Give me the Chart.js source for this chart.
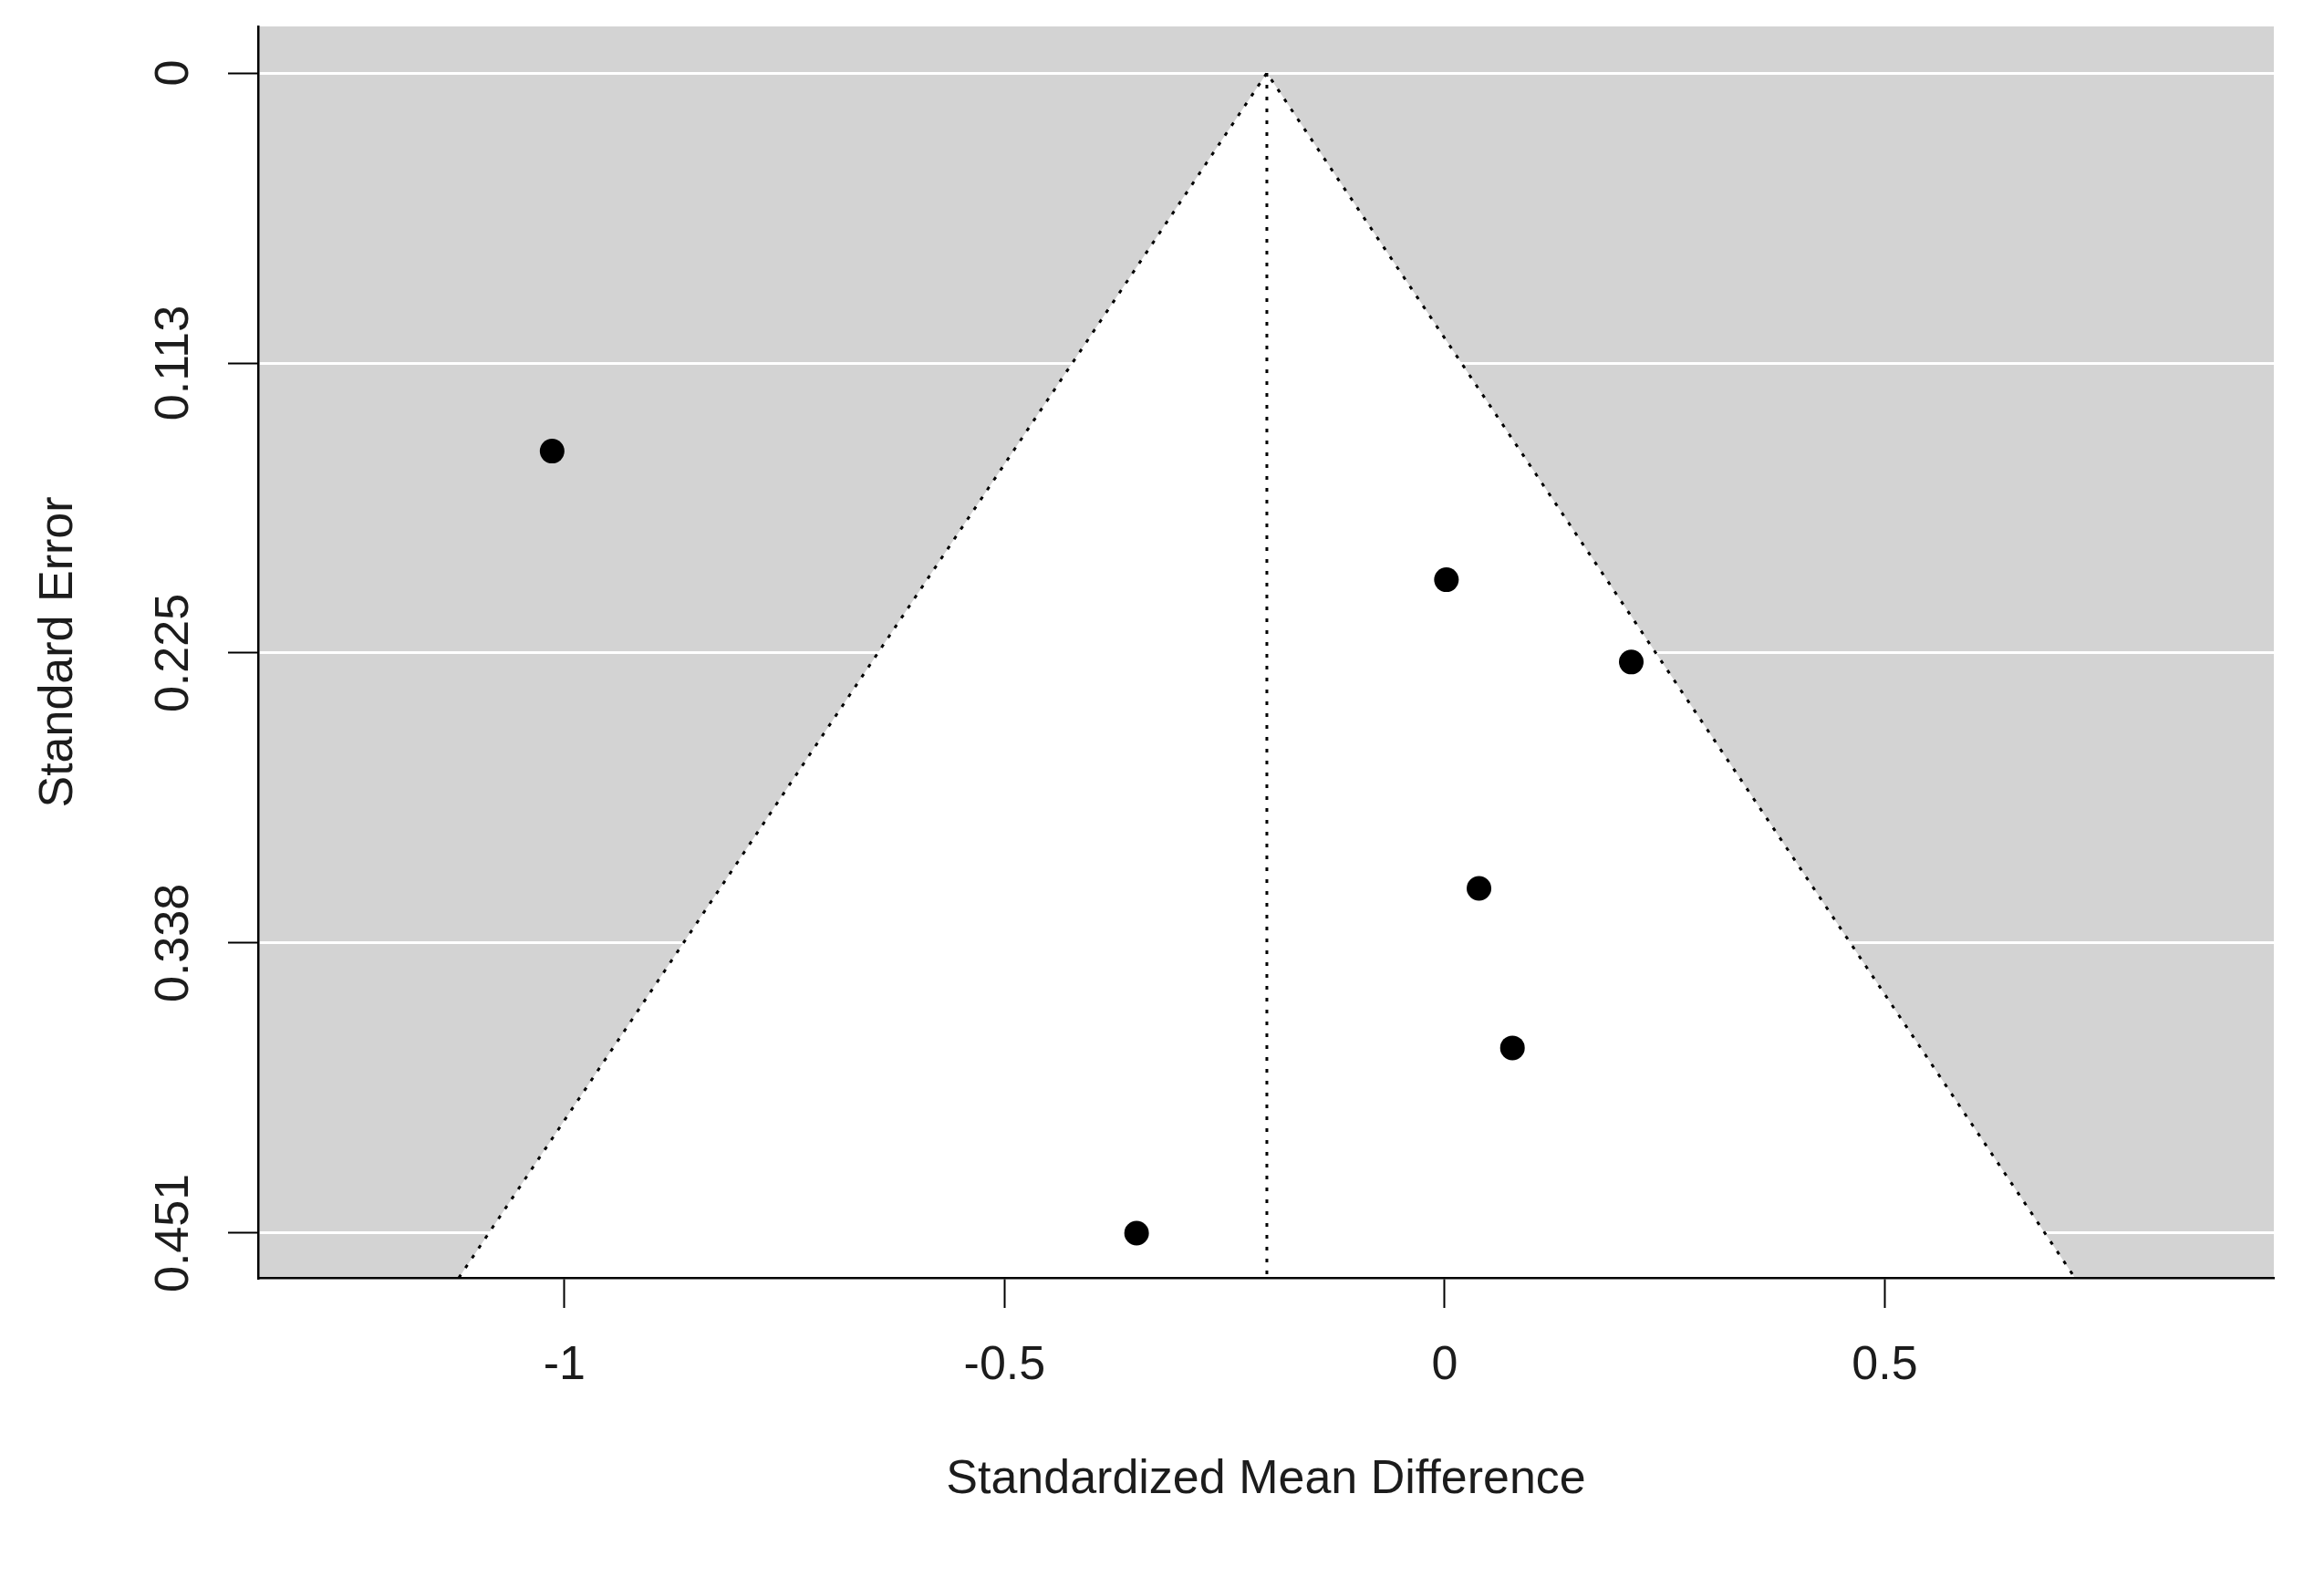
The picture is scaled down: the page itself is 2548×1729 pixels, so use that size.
<!DOCTYPE html>
<html>
<head>
<meta charset="utf-8">
<script src="https://cdn.jsdelivr.net/npm/chart.js@4.4.1/dist/chart.umd.min.js"></script>
<style>
  html, body { margin: 0; padding: 0; background: #ffffff; }
  canvas { display: block; }
</style>
</head>
<body>
<canvas id="c" width="2548" height="1729" style="width:2548px;height:1729px"></canvas>
<script>
// ---- data ----
const studySMD = [-1.014, 0.002, 0.212, 0.039, 0.077, -0.350];
const studySE  = [0.147, 0.197, 0.229, 0.317, 0.379, 0.451];

const pooledEstimate = -0.202;
// funnel outline (x at SE = axis bottom, apex at SE = 0, x at axis bottom)
const funnelX  = [-1.120, -0.202, 0.716];
const funnelSE = [0.4684, 0, 0.4684];
// vertical reference line
const refLineX  = [-0.202, -0.202];
const refLineSE = [0, 0.4684];

const xTicks = [-1, -0.5, 0, 0.5];
const xTickLabels = ['-1', '-0.5', '0', '0.5'];
const yTicks = [0, 0.11275, 0.2255, 0.33825, 0.451];
const yTickLabels = ['0', '0.113', '0.225', '0.338', '0.451'];

const xTitle = 'Standardized Mean Difference';
const yTitle = 'Standard Error';

// ---- layout constants ----
const FONT_FAMILY = '"Liberation Sans", Arial, sans-serif';
const FONT_SIZE = 52;
const TEXT_COLOR = '#1c1c1c';
const TICK_LEN = 33;

const toPts = (xs, ys) => xs.map((x, i) => ({ x: x, y: ys[i] }));

// measure widest y label to centre rotated labels
const mctx = document.createElement('canvas').getContext('2d');
mctx.font = FONT_SIZE + 'px ' + FONT_FAMILY;
let widest = 0;
yTickLabels.forEach(l => { widest = Math.max(widest, mctx.measureText(l).width); });
const yLabelCenterX = 192;
const yTickPadding = 283 - TICK_LEN - yLabelCenterX - widest / 2;

const bgPlugin = {
  id: 'plotBg',
  beforeDraw(chart) {
    const a = chart.chartArea;
    const ctx = chart.ctx;
    ctx.save();
    ctx.fillStyle = '#d3d3d3';
    ctx.fillRect(a.left, a.top, a.right - a.left, a.bottom - a.top);
    ctx.restore();
  }
};

new Chart(document.getElementById('c'), {
  type: 'scatter',
  data: {
    datasets: [
      {
        label: 'studies',
        data: toPts(studySMD, studySE),
        backgroundColor: '#000000',
        borderWidth: 0,
        pointRadius: 13.5,
        pointHoverRadius: 13.5,
        order: 0
      },
      {
        label: 'funnel',
        type: 'line',
        data: toPts(funnelX, funnelSE),
        showLine: true,
        fill: { value: funnelSE[0] },
        backgroundColor: '#ffffff',
        borderColor: '#000000',
        borderWidth: 3,
        borderDash: [4, 9],
        borderCapStyle: 'butt',
        pointRadius: 0,
        tension: 0,
        order: 2
      },
      {
        label: 'estimate',
        type: 'line',
        data: toPts(refLineX, refLineSE),
        showLine: true,
        fill: false,
        borderColor: '#000000',
        borderWidth: 3,
        borderDash: [4, 9],
        borderCapStyle: 'butt',
        pointRadius: 0,
        order: 1
      }
    ]
  },
  options: {
    responsive: false,
    animation: false,
    events: [],
    layout: { padding: { left: 0, top: 29, right: 55, bottom: 0 } },
    plugins: {
      legend: { display: false },
      tooltip: { enabled: false }
    },
    scales: {
      x: {
        type: 'linear',
        position: 'bottom',
        min: -1.348,
        max: 0.942,
        afterBuildTicks: (s) => { s.ticks = xTicks.map(v => ({ value: v })); },
        afterFit: (s) => { s.height = 328; },
        ticks: {
          callback: (v, i) => xTickLabels[i],
          font: { family: FONT_FAMILY, size: FONT_SIZE, lineHeight: 1 },
          color: TEXT_COLOR,
          padding: 38,
          maxRotation: 0,
          minRotation: 0,
          autoSkip: false
        },
        grid: {
          drawOnChartArea: false,
          drawTicks: true,
          tickLength: TICK_LEN,
          tickColor: '#000000',
          tickWidth: 2
        },
        border: { display: true, color: '#000000', width: 2.5, z: 1 },
        title: {
          display: true,
          text: xTitle,
          font: { family: FONT_FAMILY, size: FONT_SIZE, lineHeight: 1 },
          color: TEXT_COLOR,
          padding: { top: 0, bottom: 80 }
        }
      },
      y: {
        type: 'linear',
        position: 'left',
        reverse: true,
        min: -0.0181,
        max: 0.4684,
        afterBuildTicks: (s) => { s.ticks = yTicks.map(v => ({ value: v })); },
        afterFit: (s) => { s.width = 283; },
        ticks: {
          callback: (v, i) => yTickLabels[i],
          font: { family: FONT_FAMILY, size: FONT_SIZE, lineHeight: 1 },
          color: TEXT_COLOR,
          padding: yTickPadding,
          minRotation: 90,
          maxRotation: 90,
          crossAlign: 'center',
          autoSkip: false
        },
        grid: {
          color: '#ffffff',
          lineWidth: 3,
          drawTicks: true,
          tickLength: TICK_LEN,
          tickColor: '#000000',
          tickWidth: 2
        },
        border: { display: true, color: '#000000', width: 2.5, z: 1 },
        title: {
          display: true,
          text: yTitle,
          font: { family: FONT_FAMILY, size: FONT_SIZE, lineHeight: 1 },
          color: TEXT_COLOR,
          padding: { top: 39, bottom: 0 }
        }
      }
    }
  },
  plugins: [bgPlugin]
});
</script>
</body>
</html>
